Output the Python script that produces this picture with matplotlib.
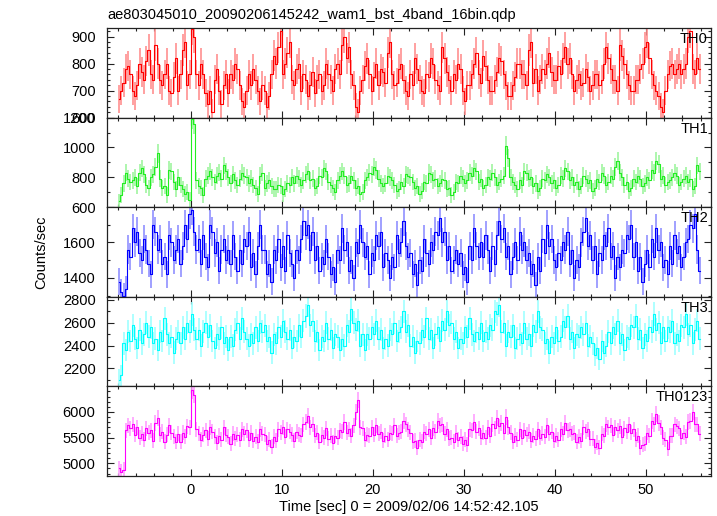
import numpy as np
import matplotlib
matplotlib.use("Agg")
import matplotlib.pyplot as plt
from matplotlib.ticker import MultipleLocator

# ---------------- data (0.25 s bins, first bin centre at -7.875 s) ----------------
T_START = -7.875
BIN = 0.25

th0 = [670, 700, 730, 780, 790, 760, 700, 680, 720, 800, 770, 740, 810, 850, 760, 740,
       870, 800, 740, 720, 760, 800, 700, 690, 750, 820, 700, 760, 850, 880, 720, 760,
       930, 900, 760, 720, 800, 760, 690, 650, 700, 620, 740, 780, 700, 650, 720, 760,
       690, 760, 740, 800, 780, 720, 660, 640, 700, 760, 720, 780, 740, 700, 660, 720,
       700, 640, 680, 760, 830, 800, 860, 920, 760, 800, 840, 880, 740, 720, 780, 800,
       700, 760, 740, 680, 720, 770, 690, 740, 760, 700, 720, 800, 760, 740, 700, 780,
       800, 760, 870, 900, 820, 860, 760, 720, 640, 620, 700, 740, 790, 820, 760, 700,
       750, 800, 720, 780, 770, 730, 840, 880, 760, 720, 730, 780, 800, 740, 700, 680,
       760, 720, 820, 780, 740, 700, 690, 760, 750, 820, 800, 740, 720, 700, 860, 820,
       770, 740, 700, 760, 740, 800, 780, 700, 660, 720, 720, 760, 800, 840, 760, 730,
       830, 790, 740, 700, 700, 740, 770, 820, 810, 760, 720, 680, 680, 720, 750, 800,
       800, 760, 760, 720, 850, 880, 730, 780, 700, 740, 780, 760, 800, 840, 770, 740,
       740, 790, 760, 820, 860, 800, 820, 760, 700, 740, 760, 720, 730, 780, 750, 700,
       720, 760, 760, 720, 740, 800, 860, 820, 780, 740, 740, 700, 870, 830, 800, 760,
       720, 700, 700, 740, 740, 780, 800, 860, 880, 820, 760, 720, 700, 680, 640, 620,
       700, 760, 790, 800, 760, 780, 800, 760, 780, 800, 900, 920, 780, 760, 820, 780]

th1 = [640, 680, 760, 830, 790, 770, 780, 800, 740, 830, 860, 820, 750, 730, 800, 820,
       870, 960, 790, 730, 740, 680, 850, 840, 770, 720, 800, 750, 720, 690, 700, 650,
       1190, 1160, 780, 740, 730, 680, 790, 810, 840, 800, 770, 810, 830, 790, 880, 840,
       800, 760, 820, 780, 750, 790, 830, 810, 800, 760, 790, 750, 730, 690, 810, 830,
       730, 760, 780, 740, 720, 720, 750, 740, 690, 720, 760, 750, 800, 760, 810, 790,
       750, 780, 820, 840, 780, 790, 730, 740, 810, 800, 860, 840, 770, 750, 730, 700,
       780, 810, 840, 810, 750, 760, 810, 780, 730, 740, 690, 700, 780, 800, 830, 820,
       870, 850, 790, 760, 740, 760, 810, 800, 780, 750, 710, 720, 770, 740, 820, 810,
       800, 770, 730, 740, 690, 710, 770, 760, 830, 820, 780, 790, 740, 760, 790, 780,
       720, 730, 680, 700, 770, 760, 810, 790, 760, 780, 830, 810, 860, 840, 770, 790,
       730, 750, 800, 790, 830, 800, 750, 770, 790, 810, 1010, 930, 800, 770, 750, 720,
       780, 750, 840, 830, 790, 800, 740, 760, 710, 730, 790, 780, 820, 800, 760, 780,
       730, 750, 810, 790, 860, 840, 780, 800, 750, 770, 720, 740, 810, 790, 760, 780,
       710, 730, 790, 770, 830, 810, 750, 770, 810, 790, 870, 910, 830, 800, 750, 770,
       710, 730, 790, 770, 810, 790, 740, 760, 800, 780, 850, 830, 910, 890, 790, 810,
       750, 770, 780, 800, 830, 810, 750, 770, 790, 810, 770, 790, 720, 740, 880, 840]

th2 = [1380, 1320, 1300, 1340, 1560, 1520, 1680, 1600, 1660, 1540, 1500, 1620, 1560, 1480, 1420, 1700,
       1660, 1560, 1620, 1480, 1520, 1420, 1640, 1600, 1500, 1560, 1620, 1480, 1580, 1700, 1620, 1760,
       1780, 1660, 1560, 1620, 1480, 1640, 1520, 1460, 1700, 1660, 1540, 1600, 1440, 1560, 1620, 1500,
       1560, 1480, 1640, 1520, 1440, 1560, 1480, 1620, 1580, 1660, 1460, 1540, 1420, 1580, 1700, 1560,
       1560, 1420, 1480, 1380, 1560, 1500, 1620, 1460, 1580, 1440, 1640, 1540, 1480, 1400, 1560, 1500,
       1620, 1720, 1640, 1700, 1560, 1660, 1500, 1580, 1440, 1520, 1480, 1620, 1520, 1420, 1460, 1380,
       1560, 1500, 1680, 1560, 1600, 1440, 1500, 1400, 1600, 1540, 1700, 1600, 1520, 1580, 1420, 1540,
       1500, 1640, 1580, 1660, 1460, 1540, 1500, 1400, 1520, 1460, 1640, 1540, 1600, 1720, 1580, 1520,
       1540, 1420, 1480, 1360, 1500, 1440, 1620, 1540, 1480, 1600, 1560, 1660, 1640, 1740, 1600, 1660,
       1500, 1580, 1440, 1500, 1560, 1480, 1540, 1420, 1460, 1380, 1580, 1500, 1680, 1580, 1520, 1600,
       1520, 1640, 1560, 1440, 1580, 1480, 1640, 1720, 1620, 1680, 1520, 1580, 1420, 1520, 1600, 1500,
       1660, 1560, 1600, 1500, 1540, 1420, 1480, 1360, 1520, 1440, 1620, 1540, 1700, 1580, 1620, 1500,
       1460, 1540, 1500, 1600, 1560, 1660, 1480, 1560, 1400, 1500, 1460, 1600, 1660, 1740, 1580, 1640,
       1500, 1580, 1420, 1540, 1500, 1640, 1580, 1680, 1520, 1580, 1400, 1520, 1460, 1560, 1540, 1640,
       1620, 1700, 1520, 1600, 1440, 1520, 1380, 1480, 1560, 1460, 1620, 1520, 1680, 1560, 1600, 1460,
       1500, 1420, 1580, 1480, 1640, 1540, 1580, 1460, 1520, 1600, 1620, 1700, 1680, 1760, 1560, 1440]

th3 = [2100, 2140, 2420, 2360, 2520, 2440, 2580, 2460, 2380, 2540, 2420, 2500, 2600, 2480, 2560, 2420,
       2460, 2360, 2520, 2440, 2640, 2500, 2420, 2480, 2340, 2460, 2520, 2420, 2560, 2460, 2600, 2520,
       2680, 2540, 2460, 2540, 2400, 2520, 2600, 2480, 2580, 2440, 2380, 2500, 2460, 2560, 2420, 2480,
       2360, 2480, 2400, 2540, 2600, 2460, 2640, 2520, 2460, 2400, 2500, 2420, 2560, 2440, 2600, 2520,
       2580, 2440, 2480, 2340, 2500, 2420, 2560, 2480, 2620, 2520, 2460, 2540, 2380, 2480, 2440, 2580,
       2480, 2620, 2660, 2760, 2580, 2620, 2440, 2520, 2360, 2480, 2440, 2600, 2460, 2540, 2380, 2500,
       2480, 2360, 2460, 2400, 2580, 2520, 2720, 2600, 2540, 2620, 2400, 2500, 2360, 2500, 2460, 2560,
       2500, 2620, 2460, 2540, 2380, 2460, 2400, 2540, 2500, 2600, 2440, 2520, 2560, 2700, 2520, 2580,
       2400, 2480, 2340, 2440, 2420, 2540, 2480, 2640, 2460, 2540, 2380, 2500, 2560, 2440, 2620, 2540,
       2700, 2580, 2600, 2460, 2520, 2380, 2460, 2420, 2560, 2480, 2640, 2500, 2440, 2520, 2460, 2600,
       2440, 2520, 2460, 2580, 2540, 2700, 2680, 2760, 2520, 2600, 2400, 2520, 2480, 2580, 2380, 2460,
       2500, 2420, 2600, 2460, 2500, 2400, 2580, 2520, 2700, 2560, 2540, 2420, 2460, 2340, 2480, 2420,
       2560, 2440, 2480, 2620, 2560, 2660, 2460, 2520, 2380, 2500, 2480, 2560, 2500, 2600, 2400, 2480,
       2420, 2320, 2380, 2280, 2440, 2340, 2400, 2520, 2420, 2560, 2500, 2620, 2420, 2500, 2360, 2480,
       2460, 2580, 2560, 2660, 2460, 2540, 2380, 2500, 2440, 2560, 2520, 2680, 2540, 2600, 2420, 2560,
       2440, 2560, 2520, 2620, 2420, 2500, 2440, 2580, 2560, 2680, 2500, 2580, 2420, 2540, 2620, 2460]

th0123 = [4900, 4840, 4880, 5640, 5740, 5680, 5760, 5560, 5700, 5500, 5580, 5460, 5680, 5600, 5640, 5440,
          5780, 5880, 5560, 5620, 5420, 5560, 5740, 5600, 5520, 5420, 5580, 5420, 5600, 5520, 5720, 5700,
          6420, 6340, 5660, 5580, 5460, 5560, 5640, 5480, 5700, 5620, 5520, 5400, 5540, 5460, 5700, 5560,
          5520, 5380, 5580, 5480, 5560, 5460, 5660, 5580, 5640, 5460, 5600, 5440, 5520, 5420, 5660, 5580,
          5560, 5380, 5460, 5320, 5520, 5440, 5660, 5600, 5700, 5520, 5660, 5620, 5560, 5440, 5620, 5560,
          5540, 5760, 5800, 5920, 5700, 5760, 5540, 5600, 5420, 5560, 5500, 5680, 5480, 5540, 5400, 5540,
          5500, 5640, 5620, 5800, 5600, 5660, 5540, 5740, 6000, 6240, 5700, 5680, 5460, 5560, 5540, 5700,
          5560, 5740, 5580, 5620, 5440, 5540, 5460, 5600, 5580, 5740, 5540, 5600, 5620, 5820, 5760, 5660,
          5600, 5420, 5440, 5300, 5460, 5420, 5620, 5580, 5660, 5500, 5680, 5620, 5820, 5740, 5760, 5580,
          5660, 5480, 5500, 5420, 5600, 5460, 5520, 5380, 5460, 5360, 5660, 5640, 5800, 5620, 5680, 5500,
          5600, 5500, 5700, 5540, 5760, 5680, 5880, 5720, 5780, 5600, 5900, 5700, 5600, 5420, 5540, 5460,
          5660, 5500, 5640, 5560, 5620, 5440, 5540, 5480, 5660, 5500, 5580, 5520, 5740, 5580, 5620, 5440,
          5540, 5460, 5660, 5580, 5780, 5640, 5660, 5580, 5600, 5420, 5520, 5440, 5700, 5620, 5660, 5480,
          5480, 5320, 5400, 5300, 5580, 5540, 5760, 5700, 5740, 5560, 5700, 5640, 5720, 5520, 5680, 5620,
          5760, 5600, 5660, 5460, 5540, 5300, 5360, 5380, 5600, 5540, 5820, 5760, 5960, 5780, 5700, 5500,
          5460, 5280, 5540, 5540, 5760, 5720, 5680, 5500, 5600, 5520, 5800, 5820, 6000, 5760, 5760, 5580]

names = ["TH0", "TH1", "TH2", "TH3", "TH0123"]
series = [th0, th1, th2, th3, th0123]

title = "ae803045010_20090206145242_wam1_bst_4band_16bin.qdp"
xlabel = "Time [sec] 0 = 2009/02/06 14:52:42.105"
ylabel = "Counts/sec"

# ---------------- styles ----------------
line_colors = ["#ff0000", "#22ee22", "#0000ff", "#00ffff", "#ff00ff"]
err_colors = ["#ff9090", "#a0f5a0", "#9090ff", "#a0ffff", "#ffa0ff"]
ylims = [(600, 932), (600, 1200), (1294, 1798), (2043, 2828), (4754, 6498)]
ymajor = [100, 200, 200, 200, 500]
yminor = [20, 100, 100, 100, 100]
XLIM = (-9.23, 57.1)

plt.rcParams["font.family"] = ["Liberation Sans", "DejaVu Sans"]
plt.rcParams["font.size"] = 10.5

W, H = 717, 516
fig = plt.figure(figsize=(W / 100, H / 100), dpi=100)
left, right = 106.7 / W, 710.7 / W
top_px, bot_px = 28.0, 476.0
ph = (bot_px - top_px) / 5

for k in range(5):
    y0 = 1 - (top_px + (k + 1) * ph) / H
    ax = fig.add_axes([left, y0, right - left, ph / H])
    v = np.asarray(series[k], dtype=float)
    t = T_START + BIN * np.arange(len(v))
    err = np.sqrt(v / BIN)
    ax.vlines(t, v - err, v + err, color=err_colors[k], lw=1.2, zorder=2)
    ax.step(t, v, where="mid", color=line_colors[k], lw=0.8, zorder=3)
    ax.set_xlim(*XLIM)
    ax.set_ylim(*ylims[k])
    ax.xaxis.set_major_locator(MultipleLocator(10))
    ax.xaxis.set_minor_locator(MultipleLocator(2))
    ax.yaxis.set_major_locator(MultipleLocator(ymajor[k]))
    ax.yaxis.set_minor_locator(MultipleLocator(yminor[k]))
    ax.tick_params(which="both", direction="in", top=True, right=True, width=0.8,
                   colors="#222222", labelcolor="black")
    ax.tick_params(which="major", length=5.0)
    ax.tick_params(which="minor", length=2.5)
    ax.tick_params(axis="y", pad=8)
    ax.tick_params(axis="x", pad=5)
    for s in ax.spines.values():
        s.set_linewidth(0.9)
        s.set_color("#222222")
    if k < 4:
        ax.tick_params(axis="x", labelbottom=False)
    ax.text(0.9955, 0.955, names[k], transform=ax.transAxes, ha="right", va="top",
            fontsize=10.5)

fig.text(107 / W, 1 - 19 / H, title, ha="left", va="baseline", fontsize=10.5)
fig.text((left + right) / 2, 1 - 511 / H, xlabel, ha="center", va="baseline", fontsize=10.5)
fig.text(41 / W, 1 - 252 / H, ylabel, ha="center", va="center", rotation=90, fontsize=10.5)

fig.savefig("out.png", dpi=100)
